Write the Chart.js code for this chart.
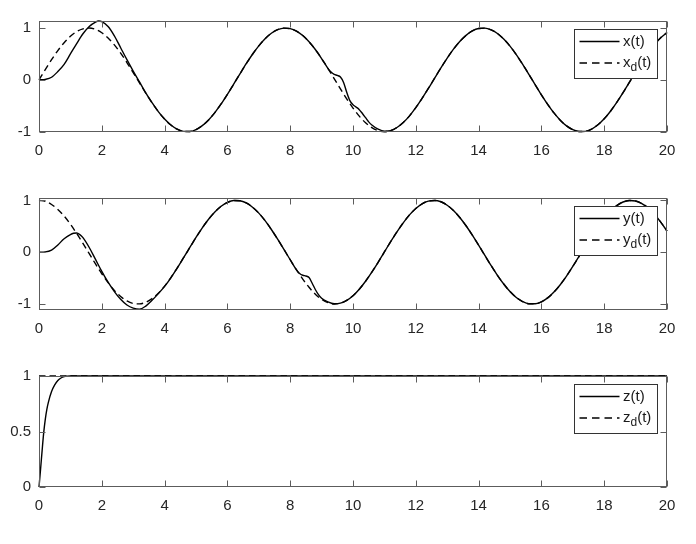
<!DOCTYPE html>
<html><head><meta charset="utf-8">
<script src="https://cdn.jsdelivr.net/npm/chart.js@4/dist/chart.umd.min.js"></script>
<style>
html,body{margin:0;padding:0;background:#fff;width:696px;height:544px;overflow:hidden}
.box{position:absolute;left:0;width:696px}
</style></head><body>
<div class="box" style="top:11px;height:151px"><canvas id="c1"></canvas></div>
<div class="box" style="top:188px;height:152px"><canvas id="c2"></canvas></div>
<div class="box" style="top:366px;height:151px"><canvas id="c3"></canvas></div>
<script>
// ---- data ----
const tGrid = [0,0.2,0.4,0.6,0.8,1,1.2,1.4,1.6,1.8,2,2.2,2.4,2.6,2.8,3,3.2,3.4,3.6,3.8,4,4.2,4.4,4.6,4.8,5,5.2,5.4,5.6,5.8,6,6.2,6.4,6.6,6.8,7,7.2,7.4,7.6,7.8,8,8.2,8.4,8.6,8.8,9,9.2,9.4,9.6,9.8,10,10.2,10.4,10.6,10.8,11,11.2,11.4,11.6,11.8,12,12.2,12.4,12.6,12.8,13,13.2,13.4,13.6,13.8,14,14.2,14.4,14.6,14.8,15,15.2,15.4,15.6,15.8,16,16.2,16.4,16.6,16.8,17,17.2,17.4,17.6,17.8,18,18.2,18.4,18.6,18.8,19,19.2,19.4,19.6,19.8,20];

const xDesired = [0,.199,.389,.565,.717,.841,.932,.985,1.0,.974,.909,
 .808,.675,.516,.335,.141,-.058,-.256,-.443,-.612,-.757,
 -.872,-.952,-.994,-.996,-.959,-.883,-.773,-.631,-.465,-.279,
 -.083,.117,.312,.494,.657,.794,.899,.968,.999,.989,
 .941,.855,.735,.586,.412,.223,.025,-.174,-.366,-.544,
 -.700,-.828,-.923,-.981,-1.0,-.979,-.919,-.823,-.694,-.537,
 -.358,-.166,.034,.232,.420,.592,.740,.859,.944,.991,
 .998,.965,.895,.788,.650,.486,.303,.108,-.092,-.288,
 -.472,-.638,-.778,-.888,-.961,-.997,-.993,-.949,-.867,-.751,
 -.605,-.435,-.247,-.050,.150,.343,.523,.682,.813,.913];

const yDesired = [1.0,.980,.921,.825,.697,.540,.362,.170,-.029,-.227,-.416,
 -.589,-.737,-.857,-.942,-.990,-.998,-.967,-.897,-.791,-.654,
 -.490,-.307,-.112,.087,.284,.469,.635,.776,.886,.960,
 .997,.993,.951,.869,.754,.608,.438,.251,.054,-.146,
 -.340,-.519,-.678,-.811,-.911,-.975,-1.0,-.984,-.930,-.839,
 -.714,-.561,-.386,-.196,.004,.204,.393,.567,.720,.844,
 .934,.986,.999,.974,.907,.804,.670,.510,.329,.137,
 -.062,-.260,-.446,-.615,-.760,-.874,-.953,-.995,-.996,-.958,
 -.882,-.770,-.628,-.461,-.275,-.079,.121,.316,.498,.660,
 .796,.900,.969,.999,.989,.939,.852,.731,.581,.408];

const tX = [0,0.2,0.4,0.6,0.8,1,1.2,1.4,1.6,1.8,1.9,2,2.2,2.4,2.6,2.8,3,3.2,3.4,3.6,3.8,4,4.2,4.4,4.6,4.8,5,5.2,5.4,5.6,5.8,6,6.2,6.4,6.6,6.8,7,7.2,7.4,7.6,7.8,8,8.2,8.4,8.6,8.8,9,9.2,9.3,9.4,9.5,9.6,9.7,9.8,9.9,10,10.1,10.2,10.3,10.4,10.5,10.6,10.8,11,11.2,11.4,11.6,11.8,12,12.2,12.4,12.6,12.8,13,13.2,13.4,13.6,13.8,14,14.2,14.4,14.6,14.8,15,15.2,15.4,15.6,15.8,16,16.2,16.4,16.6,16.8,17,17.2,17.4,17.6,17.8,18,18.2,18.4,18.6,18.8,19,19.2,19.4,19.6,19.8,20];
const xActual = [0,.01,.05,.16,.30,.50,.70,.89,1.03,1.115,1.135,1.125,1.03,.85,.62,.39,.17,-.04,-.25,-.44,-.612,-.757,
 -.872,-.952,-.994,-.996,-.959,-.883,-.773,-.631,-.465,-.279,
 -.083,.117,.312,.494,.657,.794,.899,.968,.999,.989,
 .941,.855,.735,.586,.412,.223,.15,.105,.085,.055,-.05,-.24,-.40,-.48,-.525,-.575,-.65,-.73,-.81,-.87,-.95,-.99,-.98,
 -.919,-.823,-.694,-.537,
 -.358,-.166,.034,.232,.420,.592,.740,.859,.944,.991,
 .998,.965,.895,.788,.650,.486,.303,.108,-.092,-.288,
 -.472,-.638,-.778,-.888,-.961,-.997,-.993,-.949,-.867,-.751,
 -.605,-.435,-.247,-.050,.150,.343,.523,.682,.813,.913];

const tY = [0,0.2,0.4,0.6,0.8,1,1.1,1.2,1.3,1.4,1.6,1.8,2,2.2,2.4,2.6,2.8,3,3.2,3.4,3.6,3.8,4,4.2,4.4,4.6,4.8,5,5.2,5.4,5.6,5.8,6,6.2,6.4,6.6,6.8,7,7.2,7.4,7.6,7.8,8,8.2,8.3,8.4,8.5,8.6,8.7,8.8,8.9,9,9.2,9.4,9.6,9.8,10,10.2,10.4,10.6,10.8,11,11.2,11.4,11.6,11.8,12,12.2,12.4,12.6,12.8,13,13.2,13.4,13.6,13.8,14,14.2,14.4,14.6,14.8,15,15.2,15.4,15.6,15.8,16,16.2,16.4,16.6,16.8,17,17.2,17.4,17.6,17.8,18,18.2,18.4,18.6,18.8,19,19.2,19.4,19.6,19.8,20];
const yActual = [0,.005,.04,.14,.26,.34,.365,.37,.34,.28,.09,-.14,-.37,-.58,-.76,-.91,-1.02,-1.08,-1.10,-1.04,-.93,-.80,-.66,-.495,-.31,-.112,
 .087,.284,.469,.635,.776,.886,.960,
 .997,.993,.951,.869,.754,.608,.438,.251,.054,-.146,
 -.340,-.41,-.445,-.46,-.49,-.60,-.72,-.82,-.89,-.96,-.995,-.984,-.930,-.839,
 -.714,-.561,-.386,-.196,.004,.204,.393,.567,.720,.844,
 .934,.986,.999,.974,.907,.804,.670,.510,.329,.137,
 -.062,-.260,-.446,-.615,-.760,-.874,-.953,-.995,-.996,-.958,
 -.882,-.770,-.628,-.461,-.275,-.079,.121,.316,.498,.660,
 .796,.900,.969,.999,.989,.939,.852,.731,.581,.408];

const tZ = [0,0.05,0.1,0.15,0.2,0.25,0.3,0.4,0.5,0.6,0.7,0.8,0.9,1,20];
const zActual = [0,.16,.33,.49,.61,.70,.765,.86,.92,.96,.982,.994,.999,1,1];
const tZd = [0,20];
const zDesired = [1,1];

const xTicks = [0,2,4,6,8,10,12,14,16,18,20];
const xTickLabels = ['0','2','4','6','8','10','12','14','16','18','20'];
const yTicksXY = [-1,0,1];
const yTickLabelsXY = ['-1','0','1'];
const yTicksZ = [0,0.5,1];
const yTickLabelsZ = ['0','0.5','1'];

const namesX = ['x(t)','x_d(t)'];
const namesY = ['y(t)','y_d(t)'];
const namesZ = ['z(t)','z_d(t)'];

// ---- drawing ----
const FONT = '"Liberation Sans", Arial, Helvetica, sans-serif';
const AXC = '#262626';

const matlabAxes = {
  id: 'matlabAxes',
  afterDatasetsDraw(chart) {
    const {ctx, chartArea: a, scales: {x, y}} = chart;
    ctx.save();
    ctx.strokeStyle = '#5c5c5c'; ctx.lineWidth = 1; ctx.setLineDash([]);
    const L = Math.round(a.left) + 0.5, R = Math.round(a.right) - 0.5;
    const T = Math.round(a.top) + 0.5, B = Math.round(a.bottom) - 0.5;
    ctx.strokeRect(L, T, R - L, B - T);
    const len = 6;
    ctx.beginPath();
    x.ticks.forEach(tk => {
      const px = Math.round(x.getPixelForValue(tk.value)) + 0.5;
      ctx.moveTo(px, B); ctx.lineTo(px, B - len);
      ctx.moveTo(px, T); ctx.lineTo(px, T + len);
    });
    y.ticks.forEach(tk => {
      const py = Math.round(y.getPixelForValue(tk.value)) + 0.5;
      ctx.moveTo(L, py); ctx.lineTo(L + len, py);
      ctx.moveTo(R, py); ctx.lineTo(R - len, py);
    });
    ctx.stroke();

    // legend
    const w = 83, h = 49;
    const lx = Math.round(a.right - 10 - w) + 0.5, ly = Math.round(a.top + 8) + 0.5;
    ctx.fillStyle = '#fff'; ctx.fillRect(lx, ly, w, h);
    ctx.strokeStyle = '#333'; ctx.strokeRect(lx, ly, w, h);
    chart.data.datasets.forEach((ds, i) => {
      const cy = ly + 12 + i * 21.5;
      ctx.strokeStyle = ds.borderColor; ctx.lineWidth = ds.borderWidth;
      ctx.setLineDash(ds.borderDash ? [7.5, 5] : []);
      ctx.beginPath(); ctx.moveTo(lx + 5, cy); ctx.lineTo(lx + 45, cy); ctx.stroke();
      ctx.setLineDash([]);
      const lab = ds.label;
      const k = lab.indexOf('_');
      let main = lab, sub = '', rest = '';
      if (k >= 0) { main = lab.slice(0, k); sub = lab[k + 1]; rest = lab.slice(k + 2); }
      ctx.fillStyle = '#1a1a1a'; ctx.textBaseline = 'middle'; ctx.textAlign = 'left';
      let tx = lx + 48.5;
      ctx.font = '15px ' + FONT;
      ctx.fillText(main, tx, cy); tx += ctx.measureText(main).width;
      if (sub) {
        ctx.font = '12px ' + FONT;
        ctx.fillText(sub, tx, cy + 4.5); tx += ctx.measureText(sub).width;
        ctx.font = '15px ' + FONT;
        ctx.fillText(rest, tx, cy);
      }
    });
    ctx.restore();
  }
};

function makeChart(id, tA, vA, tD, vD, names, yMin, yMax, yTicks, yLabels) {
  const toPts = (ts, vs) => ts.map((t, i) => ({x: t, y: vs[i]}));
  return new Chart(document.getElementById(id), {
    type: 'line',
    data: {
      datasets: [
        {label: names[0], data: toPts(tA, vA), borderColor: '#000', borderWidth: 1.4, pointRadius: 0, cubicInterpolationMode: 'monotone', clip: false},
        {label: names[1], data: toPts(tD, vD), borderColor: '#000', borderWidth: 1.4, borderDash: [6.5, 4], pointRadius: 0, cubicInterpolationMode: 'monotone', clip: false}
      ]
    },
    options: {
      responsive: true, maintainAspectRatio: false, animation: false, devicePixelRatio: 1,
      layout: {padding: {left: 0, top: 10, right: 29, bottom: 0}},
      plugins: {legend: {display: false}, tooltip: {enabled: false}},
      events: [],
      scales: {
        x: {
          type: 'linear', min: 0, max: 20,
          afterFit(s) { s.height = 30; s.paddingLeft = 0; s.paddingRight = 0; },
          afterBuildTicks(s) { s.ticks = xTicks.map(v => ({value: v})); },
          grid: {display: false, drawTicks: false, tickLength: 0},
          border: {display: false},
          ticks: {padding: 10, color: AXC, font: {family: FONT, size: 15}, maxRotation: 0, autoSkip: false,
            callback: v => xTickLabels[xTicks.indexOf(v)]}
        },
        y: {
          type: 'linear', min: yMin, max: yMax,
          afterFit(s) { s.width = 39; s.paddingTop = 0; s.paddingBottom = 0; },
          afterBuildTicks(s) { s.ticks = yTicks.map(v => ({value: v})); },
          grid: {display: false, drawTicks: false, tickLength: 0},
          border: {display: false},
          ticks: {padding: 8, color: AXC, font: {family: FONT, size: 15}, autoSkip: false,
            callback: v => yLabels[yTicks.indexOf(v)]}
        }
      }
    },
    plugins: [matlabAxes]
  });
}

makeChart('c1', tX, xActual, tGrid, xDesired, namesX, -1.006, 1.136, yTicksXY, yTickLabelsXY);
makeChart('c2', tY, yActual, tGrid, yDesired, namesY, -1.116, 1.046, yTicksXY, yTickLabelsXY);
makeChart('c3', tZ, zActual, tZd, zDesired, namesZ, 0, 1, yTicksZ, yTickLabelsZ);
</script>
</body></html>
